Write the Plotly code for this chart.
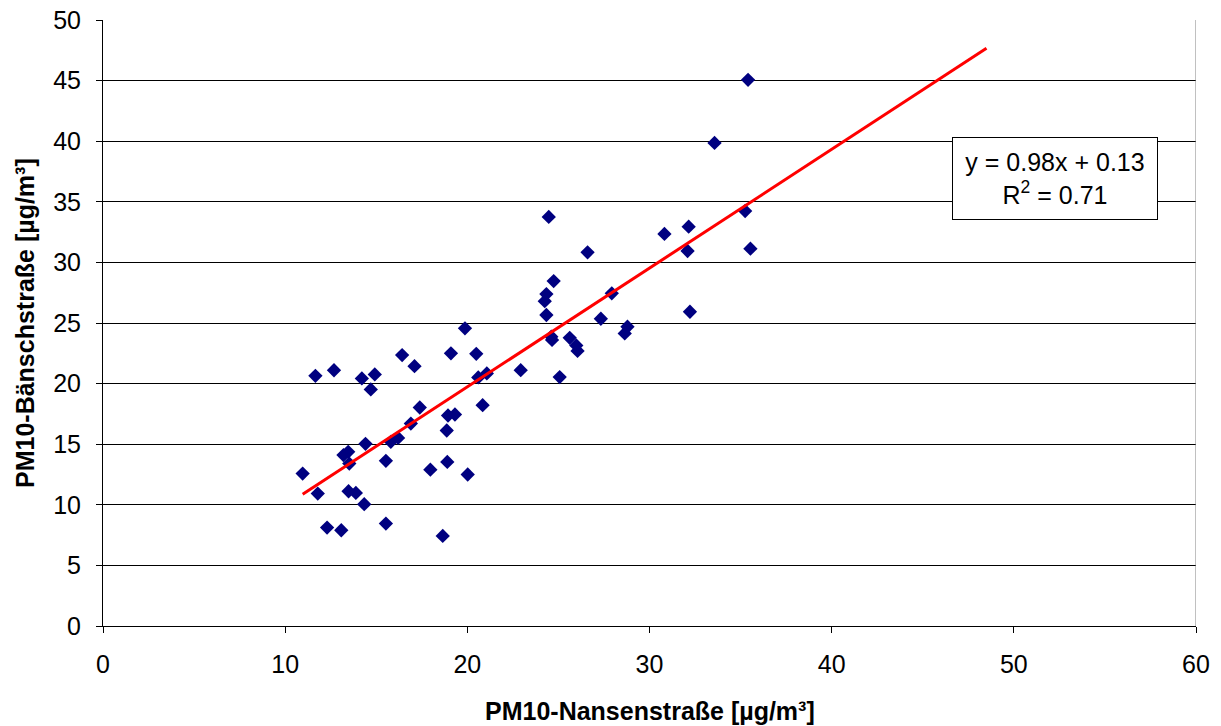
import numpy as np
import plotly.graph_objects as go

# PM10 daily means at the two stations [µg/m³]
nansen = [10.96, 11.66, 12.68, 11.79, 12.30, 13.08, 13.20, 13.46, 13.52, 13.48,
          13.88, 14.34, 14.21, 14.92, 14.70, 14.41, 15.53, 15.53, 15.80, 16.20,
          16.42, 17.10, 16.90, 17.39, 17.97, 18.65, 18.90, 18.87, 18.94, 19.32,
          19.10, 20.49, 20.02, 20.84, 20.60, 21.07, 19.87, 22.93, 25.07, 24.34,
          24.25, 24.34, 24.74, 26.60, 24.61, 24.65, 25.62, 25.98, 26.05, 27.33,
          27.93, 28.79, 28.64, 30.82, 32.15, 32.09, 32.22, 33.57, 35.41, 35.25,
          35.54, 24.47]
baensch = [12.58, 20.64, 21.10, 10.93, 8.12, 7.90, 14.10, 14.37, 13.40, 11.12,
           10.98, 10.05, 20.43, 20.76, 19.52, 15.03, 13.63, 8.45, 15.20, 15.52,
           22.35, 21.44, 16.70, 18.03, 12.90, 7.43, 13.54, 16.13, 17.37, 17.45,
           22.50, 22.46, 12.50, 18.22, 20.51, 20.84, 24.56, 21.11, 20.54, 25.66,
           26.80, 27.39, 28.46, 30.83, 23.87, 23.60, 23.78, 23.15, 22.70, 25.35,
           27.45, 24.69, 24.14, 32.35, 32.95, 30.94, 25.93, 39.86, 45.06, 34.24,
           31.13, 33.75]

# Linear trend line: y = 0.98x + 0.13, R² = 0.71
slope = 0.98
intercept = 0.13
r_squared = 0.71
trend_x = [10.96, 48.5]
trend_y = [slope * v + intercept for v in trend_x]

x_ticks = [0, 10, 20, 30, 40, 50, 60]
y_ticks = [0, 5, 10, 15, 20, 25, 30, 35, 40, 45, 50]

x_title = "PM10-Nansenstraße [µg/m³]"
y_title = "PM10-Bänschstraße [µg/m³]"

font_family = "Liberation Sans, Arial, sans-serif"
fs = 25

fig = go.Figure()
fig.add_trace(go.Scatter(
    x=nansen, y=baensch, mode="markers",
    marker=dict(symbol="diamond", size=11, color="#000080",
                line=dict(width=0)),
    showlegend=False, cliponaxis=False,
))
fig.add_trace(go.Scatter(
    x=trend_x, y=trend_y, mode="lines",
    line=dict(color="#ff0000", width=3),
    showlegend=False,
))

# Right edge of the plot area
fig.add_shape(type="line", xref="x", yref="y", x0=60, x1=60, y0=0, y1=50,
              line=dict(color="#808080", width=1))

# Regression equation box
fig.add_annotation(
    xref="paper", yref="paper", x=0.871, y=0.739,
    xanchor="center", yanchor="middle", showarrow=False,
    text=f"y = {slope:.2f}x + {intercept:.2f}<br>R<sup>2</sup> = {r_squared:.2f}",
    font=dict(family=font_family, size=fs, color="black"),
    bgcolor="white", bordercolor="black", borderwidth=1,
    width=200, height=77, borderpad=2, align="center",
)

# Axis titles
fig.add_annotation(
    xref="paper", yref="paper", x=0.5, y=0, yshift=-85,
    xanchor="center", yanchor="middle", showarrow=False,
    text=f"<b>{x_title}</b>", font=dict(family=font_family, size=fs),
)
fig.add_annotation(
    xref="paper", yref="paper", x=0, y=0.5, xshift=-78,
    xanchor="center", yanchor="middle", showarrow=False, textangle=-90,
    text=f"<b>{y_title}</b>", font=dict(family=font_family, size=fs),
)

fig.update_layout(
    width=1221, height=726,
    margin=dict(l=103, r=25, t=20, b=100),
    paper_bgcolor="white", plot_bgcolor="white",
    font=dict(family=font_family, size=fs, color="black"),
    xaxis=dict(
        range=[0, 60], tickvals=x_ticks, ticks="outside", ticklen=6,
        tickcolor="black", showgrid=False, zeroline=False,
        showline=True, linecolor="black", linewidth=1, automargin=False,
        tickfont=dict(size=fs), ticklabelstandoff=10,
    ),
    yaxis=dict(
        range=[0, 50], tickvals=y_ticks, ticks="outside", ticklen=6,
        tickcolor="black", showgrid=True, gridcolor="black", gridwidth=1,
        zeroline=False, showline=True, linecolor="black", linewidth=1,
        automargin=False,
        tickfont=dict(size=fs), ticklabelstandoff=10,
    ),
)

fig.write_html("out.html")
